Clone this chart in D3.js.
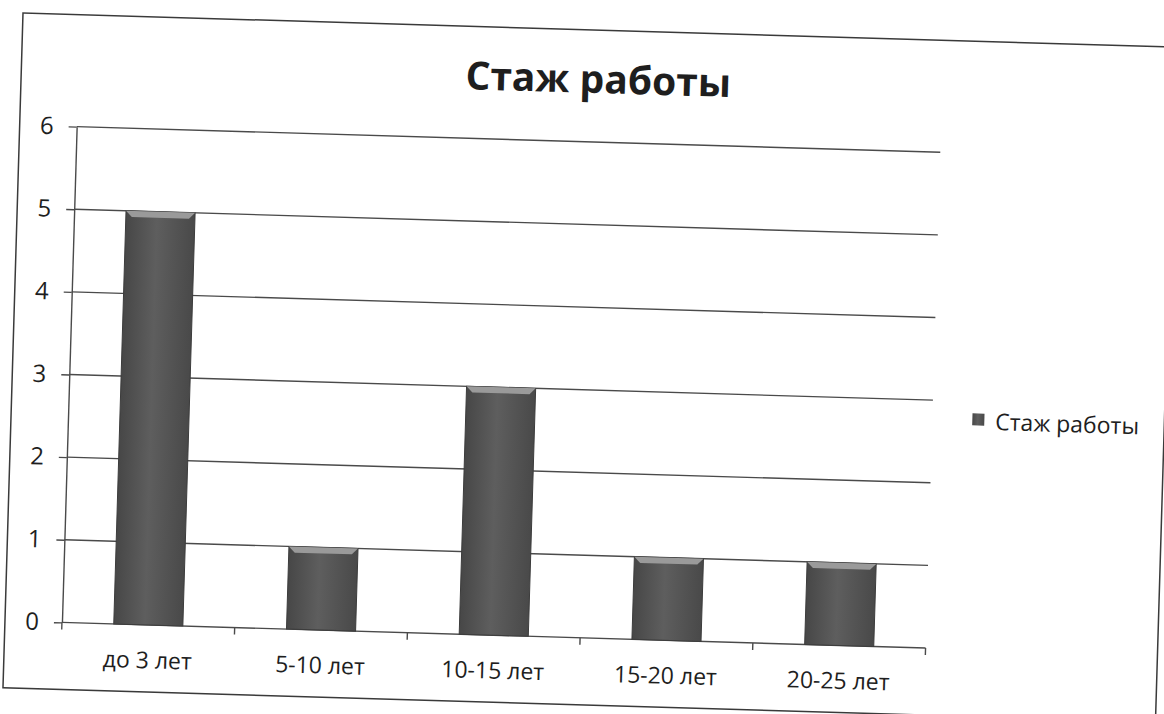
<!DOCTYPE html>
<html>
    <head>
        <meta charset="utf-8">
        <title>Стаж работы</title>
        <script src="https://d3js.org/d3.v7.min.js"></script>
        <style>
         html, body {
             margin: 0;
             background-color: white;
         }
         #chart text {
             font-family: "Open Sans", "Noto Sans", sans-serif;
             fill: #1e1e1e;
         }
        </style>
    </head>
    <body>
        <div id="chart"></div>

        <script>
         // chart data
         const categories = ["до 3 лет", "5-10 лет", "10-15 лет", "15-20 лет", "20-25 лет"]
         const values = [5, 1, 3, 1, 1]
         const yTicks = [0, 1, 2, 3, 4, 5, 6]
         const title = "Стаж работы"
         const seriesName = "Стаж работы"

         const W = 1164, H = 714
         // the scanned page is a little tilted, so the whole chart is turned
         const tilt = 1.7

         const svg = d3.select("#chart")
                       .append("svg")
                       .attr("width", W)
                       .attr("height", H)

         const defs = svg.append("defs")
         const grad = defs.append("linearGradient")
                          .attr("id", "barFill")
                          .attr("x1", "0").attr("x2", "1")
                          .attr("y1", "0").attr("y2", "0")
         grad.append("stop").attr("offset", "0%").attr("stop-color", "#474747")
         grad.append("stop").attr("offset", "45%").attr("stop-color", "#5e5e5e")
         grad.append("stop").attr("offset", "100%").attr("stop-color", "#494949")

         const page = svg.append("g")
                         .attr("transform", "translate(23,13) rotate(" + tilt + ")")

         // chart frame
         page.append("rect")
             .attr("x", 0).attr("y", 0)
             .attr("width", 1153).attr("height", 675)
             .attr("fill", "white")
             .attr("stroke", "#3a3a3a")
             .attr("stroke-width", 1.5)

         // title
         page.append("text")
             .attr("x", 577)
             .attr("y", 63)
             .attr("text-anchor", "middle")
             .style("font-size", "39px")
             .style("font-weight", "bold")
             .text(title)

         var margin = {top: 112, left: 57},
             width = 864,
             height = 496;

         const plot = page.append("g")
                          .attr("transform", "translate(" + margin.left + "," + margin.top + ")")

         var x = d3.scaleBand()
                   .domain(categories)
                   .range([0, width])
                   .paddingInner(0.6)
                   .paddingOuter(0.3);

         var y = d3.scaleLinear()
                   .domain([0, d3.max(yTicks)])
                   .range([height, 0]);

         // horizontal grid lines
         plot.append("g")
             .selectAll("line")
             .data(yTicks)
             .join("line")
             .attr("x1", 0)
             .attr("x2", width)
             .attr("y1", d => y(d))
             .attr("y2", d => y(d))
             .attr("stroke", "#4a4a4a")
             .attr("stroke-width", 1.4)

         // Add Y axis
         const yAxis = plot.append("g")
             .call(d3.axisLeft(y)
                     .tickValues(yTicks)
                     .tickFormat(d3.format("d"))
                     .tickSize(8)
                     .tickSizeOuter(0)
                     .tickPadding(15))
         yAxis.selectAll("line, path").attr("stroke", "#4a4a4a").attr("stroke-width", 1.4)
         yAxis.selectAll("text").style("font-size", "24px")

         // Add X axis (labels under the bands, ticks on the band edges)
         const xAxis = plot.append("g")
             .attr("transform", "translate(0," + height + ")")
             .call(d3.axisBottom(x).tickSize(0).tickPadding(27))
         xAxis.select(".domain").remove()
         xAxis.selectAll("text").style("font-size", "23px")

         const edges = categories.map((c, i) => i * x.step()).concat([categories.length * x.step()])
         plot.append("g")
             .selectAll("line")
             .data(edges)
             .join("line")
             .attr("x1", d => d).attr("x2", d => d)
             .attr("y1", height).attr("y2", height + 7)
             .attr("stroke", "#4a4a4a")
             .attr("stroke-width", 1.4)

         // bars
         const bars = plot.append("g")
                          .selectAll("g")
                          .data(values)
                          .join("g")
         bars.append("rect")
             .attr("x", (d, i) => x(categories[i]))
             .attr("y", d => y(d))
             .attr("width", x.bandwidth())
             .attr("height", d => height - y(d))
             .attr("fill", "url(#barFill)")
             .attr("stroke", "#3c3c3c")
             .attr("stroke-width", 1)
         // bevel on top of each bar
         bars.append("path")
             .attr("d", (d, i) => {
                 const x0 = x(categories[i]), x1 = x0 + x.bandwidth(), y0 = y(d)
                 return "M" + x0 + "," + y0 + "L" + x1 + "," + y0 +
                        "L" + (x1 - 6) + "," + (y0 + 6) + "L" + (x0 + 6) + "," + (y0 + 6) + "Z"
             })
             .attr("fill", "#9a9a9a")

         // legend
         const legend = page.append("g")
                            .attr("transform", "translate(961,372)")
         legend.append("rect")
               .attr("width", 12).attr("height", 12)
               .attr("fill", "url(#barFill)")
         legend.append("text")
               .attr("x", 23)
               .attr("y", 16)
               .style("font-size", "23px")
               .text(seriesName)
        </script>
    </body>
</html>
